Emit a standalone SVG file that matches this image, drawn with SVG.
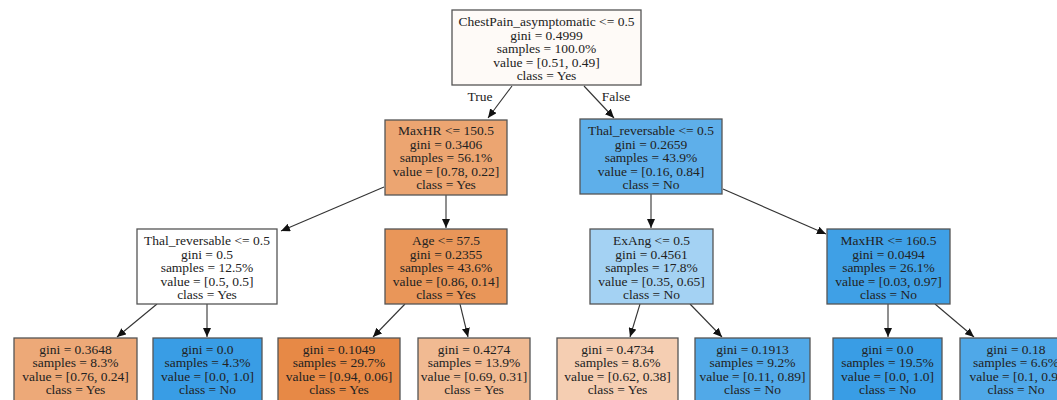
<svg xmlns="http://www.w3.org/2000/svg" width="1057" height="400" viewBox="0 0 1057 400">
<defs>
<style>
.box{stroke:#555;stroke-width:1.3}
.t{font-family:"Liberation Serif","Times New Roman",serif;font-size:13.5px;fill:#222;text-anchor:middle}
.e{stroke:#333;stroke-width:1.1;fill:none;marker-end:url(#arr)}
</style>
<marker id="arr" markerUnits="userSpaceOnUse" markerWidth="10" markerHeight="8" refX="9" refY="4" orient="auto">
<path d="M0,0 L9,4 L0,8 Z" fill="#111"/>
</marker>
</defs>
<rect width="1057" height="400" fill="#fff"/>
<g id="connectors">
<line class="e" x1="512" y1="86" x2="488" y2="118"/>
<line class="e" x1="584" y1="86" x2="614" y2="118"/>
<text class="t" x="480" y="101">True</text>
<text class="t" x="616" y="101">False</text>
<line class="e" x1="384" y1="187" x2="281" y2="231"/>
<line class="e" x1="446" y1="195" x2="446" y2="228"/>
<line class="e" x1="651" y1="194" x2="651" y2="228"/>
<line class="e" x1="723" y1="189" x2="826" y2="234"/>
<line class="e" x1="157" y1="304" x2="117" y2="337"/>
<line class="e" x1="207" y1="304" x2="207" y2="337"/>
<line class="e" x1="405" y1="304" x2="373" y2="337"/>
<line class="e" x1="460" y1="304" x2="468" y2="337"/>
<line class="e" x1="640" y1="304" x2="630" y2="337"/>
<line class="e" x1="690" y1="304" x2="722" y2="337"/>
<line class="e" x1="888" y1="304" x2="888" y2="337"/>
<line class="e" x1="935" y1="304" x2="974" y2="337"/>
</g>
<g id="n0">
<rect class="box" x="452" y="10" width="189" height="75" fill="#fefaf7"/>
<text class="t" x="546.5" y="26">ChestPain_asymptomatic &lt;= 0.5</text>
<text class="t" x="546.5" y="39.5">gini = 0.4999</text>
<text class="t" x="546.5" y="53">samples = 100.0%</text>
<text class="t" x="546.5" y="66.5">value = [0.51, 0.49]</text>
<text class="t" x="546.5" y="80">class = Yes</text>
</g>
<g id="n1">
<rect class="box" x="385" y="120" width="122" height="75" fill="#eca571"/>
<text class="t" x="446" y="135">MaxHR &lt;= 150.5</text>
<text class="t" x="446" y="148.5">gini = 0.3406</text>
<text class="t" x="446" y="162">samples = 56.1%</text>
<text class="t" x="446" y="175.5">value = [0.78, 0.22]</text>
<text class="t" x="446" y="189">class = Yes</text>
</g>
<g id="n8">
<rect class="box" x="580" y="119" width="142" height="75" fill="#5eafea"/>
<text class="t" x="651" y="135">Thal_reversable &lt;= 0.5</text>
<text class="t" x="651" y="148.5">gini = 0.2659</text>
<text class="t" x="651" y="162">samples = 43.9%</text>
<text class="t" x="651" y="175.5">value = [0.16, 0.84]</text>
<text class="t" x="651" y="189">class = No</text>
</g>
<g id="n2">
<rect class="box" x="137" y="229" width="140" height="75" fill="#ffffff"/>
<text class="t" x="207" y="245">Thal_reversable &lt;= 0.5</text>
<text class="t" x="207" y="258.5">gini = 0.5</text>
<text class="t" x="207" y="272">samples = 12.5%</text>
<text class="t" x="207" y="285.5">value = [0.5, 0.5]</text>
<text class="t" x="207" y="299">class = Yes</text>
</g>
<g id="n5">
<rect class="box" x="385" y="229" width="122" height="75" fill="#e99659"/>
<text class="t" x="446" y="245">Age &lt;= 57.5</text>
<text class="t" x="446" y="258.5">gini = 0.2355</text>
<text class="t" x="446" y="272">samples = 43.6%</text>
<text class="t" x="446" y="285.5">value = [0.86, 0.14]</text>
<text class="t" x="446" y="299">class = Yes</text>
</g>
<g id="n9">
<rect class="box" x="590" y="229" width="123" height="75" fill="#a4d2f3"/>
<text class="t" x="651.5" y="245">ExAng &lt;= 0.5</text>
<text class="t" x="651.5" y="258.5">gini = 0.4561</text>
<text class="t" x="651.5" y="272">samples = 17.8%</text>
<text class="t" x="651.5" y="285.5">value = [0.35, 0.65]</text>
<text class="t" x="651.5" y="299">class = No</text>
</g>
<g id="n12">
<rect class="box" x="827" y="229" width="123" height="75" fill="#3fa0e6"/>
<text class="t" x="888.5" y="245">MaxHR &lt;= 160.5</text>
<text class="t" x="888.5" y="258.5">gini = 0.0494</text>
<text class="t" x="888.5" y="272">samples = 26.1%</text>
<text class="t" x="888.5" y="285.5">value = [0.03, 0.97]</text>
<text class="t" x="888.5" y="299">class = No</text>
</g>
<g id="n3">
<rect class="box" x="14" y="338" width="123" height="66" fill="#eda978"/>
<text class="t" x="75.5" y="353.5">gini = 0.3648</text>
<text class="t" x="75.5" y="367">samples = 8.3%</text>
<text class="t" x="75.5" y="380.5">value = [0.76, 0.24]</text>
<text class="t" x="75.5" y="394">class = Yes</text>
</g>
<g id="n4">
<rect class="box" x="153" y="338" width="109" height="66" fill="#399de5"/>
<text class="t" x="207.5" y="353.5">gini = 0.0</text>
<text class="t" x="207.5" y="367">samples = 4.3%</text>
<text class="t" x="207.5" y="380.5">value = [0.0, 1.0]</text>
<text class="t" x="207.5" y="394">class = No</text>
</g>
<g id="n6">
<rect class="box" x="278" y="338" width="122" height="66" fill="#e78946"/>
<text class="t" x="339" y="353.5">gini = 0.1049</text>
<text class="t" x="339" y="367">samples = 29.7%</text>
<text class="t" x="339" y="380.5">value = [0.94, 0.06]</text>
<text class="t" x="339" y="394">class = Yes</text>
</g>
<g id="n7">
<rect class="box" x="418" y="338" width="112" height="66" fill="#f1ba92"/>
<text class="t" x="474" y="353.5">gini = 0.4274</text>
<text class="t" x="474" y="367">samples = 13.9%</text>
<text class="t" x="474" y="380.5">value = [0.69, 0.31]</text>
<text class="t" x="474" y="394">class = Yes</text>
</g>
<g id="n10">
<rect class="box" x="557" y="338" width="121" height="66" fill="#f5ceb2"/>
<text class="t" x="617.5" y="353.5">gini = 0.4734</text>
<text class="t" x="617.5" y="367">samples = 8.6%</text>
<text class="t" x="617.5" y="380.5">value = [0.62, 0.38]</text>
<text class="t" x="617.5" y="394">class = Yes</text>
</g>
<g id="n11">
<rect class="box" x="695" y="338" width="115" height="66" fill="#51a9e8"/>
<text class="t" x="752.5" y="353.5">gini = 0.1913</text>
<text class="t" x="752.5" y="367">samples = 9.2%</text>
<text class="t" x="752.5" y="380.5">value = [0.11, 0.89]</text>
<text class="t" x="752.5" y="394">class = No</text>
</g>
<g id="n13">
<rect class="box" x="833" y="338" width="109" height="66" fill="#399de5"/>
<text class="t" x="887.5" y="353.5">gini = 0.0</text>
<text class="t" x="887.5" y="367">samples = 19.5%</text>
<text class="t" x="887.5" y="380.5">value = [0.0, 1.0]</text>
<text class="t" x="887.5" y="394">class = No</text>
</g>
<g id="n14">
<rect class="box" x="960" y="338" width="112" height="66" fill="#4fa8e8"/>
<text class="t" x="1016" y="353.5">gini = 0.18</text>
<text class="t" x="1016" y="367">samples = 6.6%</text>
<text class="t" x="1016" y="380.5">value = [0.1, 0.9]</text>
<text class="t" x="1016" y="394">class = No</text>
</g>
</svg>
